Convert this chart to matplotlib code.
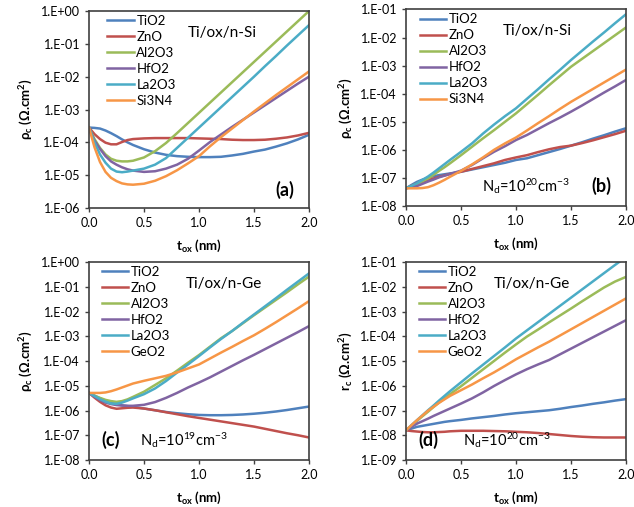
import matplotlib
matplotlib.use('Agg')
import matplotlib.pyplot as plt
import numpy as np
from matplotlib.ticker import FuncFormatter, LogLocator, NullLocator

plt.rcParams['font.family'] = ['Lato', 'DejaVu Sans']
plt.rcParams['mathtext.default'] = 'regular'

# espessura do oxido (nm)
t_ox = [0, 0.05, 0.1, 0.15, 0.2, 0.25, 0.3, 0.35, 0.4, 0.5, 0.6, 0.7, 0.8, 0.9,
        1.0, 1.1, 1.2, 1.3, 1.4, 1.5, 1.6, 1.7, 1.8, 1.9, 2.0]

# valores, em log10(rho_c)
# (a) Ti/ox/n-Si
a_tio2 = [-3.55, -3.56, -3.58, -3.64, -3.72, -3.81, -3.91, -4.00, -4.08, -4.21, -4.31, -4.38, -4.42,
          -4.44, -4.45, -4.45, -4.44, -4.40, -4.35, -4.28, -4.22, -4.13, -4.03, -3.91, -3.77]
a_zno = [-3.55, -3.75, -3.90, -4.01, -4.06, -4.06, -3.99, -3.93, -3.90, -3.88, -3.87, -3.87, -3.87,
         -3.87, -3.88, -3.89, -3.90, -3.92, -3.93, -3.93, -3.92, -3.89, -3.85, -3.79, -3.71]
a_al2o3 = [-3.55, -3.90, -4.17, -4.37, -4.50, -4.56, -4.58, -4.58, -4.56, -4.46, -4.27, -4.02, -3.72,
           -3.41, -3.10, -2.79, -2.48, -2.17, -1.86, -1.55, -1.24, -0.93, -0.62, -0.31, 0.0]
a_hfo2 = [-3.55, -3.95, -4.20, -4.42, -4.58, -4.68, -4.76, -4.82, -4.86, -4.90, -4.88, -4.80, -4.68,
          -4.50, -4.25, -3.99, -3.76, -3.53, -3.31, -3.09, -2.87, -2.65, -2.43, -2.21, -2.00]
a_la2o3 = [-3.55, -4.00, -4.37, -4.62, -4.80, -4.89, -4.91, -4.89, -4.86, -4.80, -4.68, -4.48, -4.17,
           -3.86, -3.55, -3.24, -2.93, -2.62, -2.31, -2.00, -1.68, -1.37, -1.05, -0.74, -0.43]
a_si3n4 = [-3.55, -4.15, -4.60, -4.90, -5.08, -5.18, -5.25, -5.28, -5.29, -5.26, -5.17, -5.03, -4.85,
           -4.64, -4.42, -4.12, -3.84, -3.58, -3.32, -3.06, -2.81, -2.56, -2.32, -2.08, -1.84]

# (b) Ti/ox/n-Si, Nd=1e20
b_tio2 = [-7.37, -7.25, -7.14, -7.06, -6.99, -6.94, -6.90, -6.87, -6.84, -6.78, -6.70, -6.62, -6.54,
          -6.46, -6.36, -6.30, -6.19, -6.08, -5.97, -5.85, -5.73, -5.60, -5.48, -5.35, -5.23]
b_zno = [-7.37, -7.28, -7.19, -7.13, -7.08, -7.02, -6.96, -6.91, -6.86, -6.78, -6.68, -6.58, -6.48,
         -6.36, -6.27, -6.19, -6.08, -5.98, -5.90, -5.85, -5.76, -5.66, -5.55, -5.44, -5.32]
b_al2o3 = [-7.37, -7.30, -7.22, -7.12, -7.02, -6.89, -6.75, -6.62, -6.48, -6.19, -5.89, -5.59, -5.30,
           -5.00, -4.70, -4.37, -4.04, -3.70, -3.37, -3.04, -2.76, -2.48, -2.20, -1.92, -1.64]
b_hfo2 = [-7.37, -7.33, -7.29, -7.21, -7.13, -7.06, -6.98, -6.92, -6.86, -6.74, -6.54, -6.30, -6.07,
          -5.87, -5.65, -5.47, -5.26, -5.05, -4.85, -4.64, -4.42, -4.19, -3.96, -3.74, -3.51]
b_la2o3 = [-7.37, -7.28, -7.19, -7.07, -6.95, -6.81, -6.66, -6.51, -6.36, -6.07, -5.77, -5.42, -5.10,
           -4.80, -4.52, -4.18, -3.84, -3.49, -3.15, -2.80, -2.47, -2.14, -1.82, -1.49, -1.17]
b_si3n4 = [-7.37, -7.37, -7.37, -7.36, -7.33, -7.26, -7.17, -7.07, -6.96, -6.75, -6.52, -6.27, -6.00,
           -5.77, -5.56, -5.31, -5.05, -4.80, -4.54, -4.29, -4.06, -3.83, -3.60, -3.37, -3.14]

# (c) Ti/ox/n-Ge, Nd=1e19
c_tio2 = [-5.29, -5.40, -5.51, -5.61, -5.69, -5.74, -5.79, -5.82, -5.85, -5.92, -5.99, -6.06, -6.11,
          -6.15, -6.18, -6.19, -6.19, -6.18, -6.16, -6.13, -6.09, -6.04, -5.98, -5.91, -5.84]
c_zno = [-5.29, -5.48, -5.65, -5.79, -5.88, -5.93, -5.91, -5.89, -5.88, -5.92, -5.99, -6.07, -6.15,
         -6.23, -6.30, -6.37, -6.44, -6.51, -6.58, -6.65, -6.74, -6.83, -6.92, -7.00, -7.09]
c_al2o3 = [-5.29, -5.40, -5.49, -5.57, -5.62, -5.65, -5.62, -5.55, -5.45, -5.24, -4.97, -4.70, -4.39,
           -4.07, -3.76, -3.42, -3.08, -2.79, -2.47, -2.15, -1.84, -1.53, -1.22, -0.90, -0.59]
c_hfo2 = [-5.29, -5.44, -5.58, -5.68, -5.74, -5.78, -5.80, -5.81, -5.81, -5.77, -5.66, -5.49, -5.29,
          -5.07, -4.87, -4.66, -4.43, -4.20, -3.97, -3.75, -3.52, -3.29, -3.06, -2.83, -2.59]
c_la2o3 = [-5.29, -5.42, -5.54, -5.64, -5.72, -5.73, -5.68, -5.60, -5.51, -5.34, -5.11, -4.81, -4.47,
           -4.14, -3.80, -3.45, -3.11, -2.79, -2.45, -2.12, -1.79, -1.46, -1.12, -0.79, -0.46]
c_geo2 = [-5.29, -5.29, -5.29, -5.27, -5.22, -5.15, -5.07, -4.99, -4.91, -4.80, -4.70, -4.60, -4.46,
          -4.30, -4.14, -3.90, -3.66, -3.43, -3.19, -2.96, -2.70, -2.43, -2.15, -1.87, -1.58]

# (d) Ti/ox/n-Ge, Nd=1e20
d_tio2 = [-7.80, -7.73, -7.66, -7.62, -7.58, -7.54, -7.50, -7.46, -7.43, -7.38, -7.32, -7.27, -7.22,
          -7.16, -7.11, -7.07, -7.03, -6.99, -6.93, -6.86, -6.80, -6.73, -6.67, -6.60, -6.54]
d_zno = [-7.80, -7.83, -7.85, -7.87, -7.88, -7.88, -7.87, -7.86, -7.84, -7.82, -7.82, -7.82, -7.83,
         -7.84, -7.86, -7.88, -7.91, -7.95, -7.99, -8.03, -8.06, -8.08, -8.09, -8.09, -8.09]
d_al2o3 = [-7.80, -7.61, -7.42, -7.23, -7.05, -6.86, -6.68, -6.51, -6.34, -6.02, -5.68, -5.34, -5.00,
           -4.66, -4.33, -4.01, -3.73, -3.44, -3.16, -2.88, -2.59, -2.31, -2.03, -1.79, -1.60]
d_hfo2 = [-7.80, -7.66, -7.53, -7.43, -7.33, -7.22, -7.12, -7.02, -6.92, -6.72, -6.51, -6.27, -6.01,
          -5.77, -5.54, -5.33, -5.14, -4.96, -4.73, -4.50, -4.27, -4.04, -3.81, -3.58, -3.35]
d_la2o3 = [-7.80, -7.59, -7.39, -7.19, -6.99, -6.80, -6.60, -6.41, -6.22, -5.86, -5.50, -5.15, -4.80,
           -4.45, -4.09, -3.76, -3.43, -3.10, -2.77, -2.44, -2.11, -1.78, -1.45, -1.12, -0.80]
d_geo2 = [-7.80, -7.59, -7.39, -7.20, -7.01, -6.85, -6.69, -6.55, -6.41, -6.18, -5.95, -5.70, -5.46,
          -5.20, -4.93, -4.69, -4.45, -4.22, -3.97, -3.72, -3.47, -3.22, -2.97, -2.72, -2.47]

labels_si = ['TiO2', 'ZnO', 'Al2O3', 'HfO2', 'La2O3', 'Si3N4']
labels_ge = ['TiO2', 'ZnO', 'Al2O3', 'HfO2', 'La2O3', 'GeO2']
cores = ['#4F81BD', '#C0504D', '#9BBB59', '#8064A2', '#4BACC6', '#F79646']

font_tick = 9
font_lbl = {'fontsize': 9.5, 'fontweight': 'bold'}


def fmt_exp(v, pos):
    return '1.E%+03d' % int(round(np.log10(v)))


def plot_painel(ax, series, labels, ylim, ylabel, titulo, letra, letra_pos, nd_txt, nd_pos, tit_x, leg_x):
    for s, lab, cor in zip(series, labels, cores):
        ax.plot(t_ox, 10.0 ** np.array(s), color=cor, lw=1.8, label=lab)
    ax.set_yscale('log')
    ax.set_xlim(0, 2.0)
    ax.set_ylim(ylim)
    ax.yaxis.set_major_locator(LogLocator(base=10, numticks=15))
    ax.yaxis.set_minor_locator(NullLocator())
    ax.yaxis.set_major_formatter(FuncFormatter(fmt_exp))
    ax.set_xticks([0, 0.5, 1.0, 1.5, 2.0])
    ax.set_xticklabels(['0.0', '0.5', '1.0', '1.5', '2.0'])
    ax.tick_params(direction='out', length=3, width=1, labelsize=font_tick, color='#404040')
    for sp in ax.spines.values():
        sp.set_color('#404040')
        sp.set_linewidth(1.2)
    ax.set_xlabel('t$_{ox}$ (nm)', fontdict=font_lbl, labelpad=6)
    ax.set_ylabel(ylabel, fontdict=font_lbl, labelpad=4)
    ax.legend(loc='upper left', frameon=False, fontsize=9.5, handlelength=2.0, handletextpad=0.2,
              labelspacing=0.3, borderaxespad=0.0, borderpad=0.3, bbox_to_anchor=(leg_x, 1.0))
    ax.text(tit_x, 0.89, titulo, transform=ax.transAxes, fontsize=11, va='center')
    ax.text(letra_pos[0], letra_pos[1], letra, transform=ax.transAxes, fontsize=13,
            fontweight='bold', ha='center', va='center')
    if nd_txt is not None:
        ax.text(nd_pos[0], nd_pos[1], nd_txt, transform=ax.transAxes, fontsize=10.5, va='center')


fig = plt.figure(figsize=(6.34, 5.07), dpi=100)
ax_a = fig.add_axes([0.1404, 0.5897, 0.347, 0.3886])
ax_b = fig.add_axes([0.6404, 0.5937, 0.347, 0.3876])
ax_c = fig.add_axes([0.1404, 0.0927, 0.347, 0.3905])
ax_d = fig.add_axes([0.6404, 0.0927, 0.347, 0.3905])

rho_lbl = 'ρ$_c$ (Ω.cm$^2$)'

plot_painel(ax_a, [a_tio2, a_zno, a_al2o3, a_hfo2, a_la2o3, a_si3n4], labels_si, (1e-6, 1e0),
            rho_lbl, 'Ti/ox/n-Si', '(a)', (0.89, 0.09), None, None, 0.45, 0.065)
plot_painel(ax_b, [b_tio2, b_zno, b_al2o3, b_hfo2, b_la2o3, b_si3n4], labels_si, (1e-8, 1e-1),
            rho_lbl, 'Ti/ox/n-Si', '(b)', (0.89, 0.1), 'N$_d$=10$^{20}$cm$^{-3}$', (0.345, 0.1), 0.44, 0.045)
plot_painel(ax_c, [c_tio2, c_zno, c_al2o3, c_hfo2, c_la2o3, c_geo2], labels_ge, (1e-8, 1e0),
            rho_lbl, 'Ti/ox/n-Ge', '(c)', (0.1, 0.1), 'N$_d$=10$^{19}$cm$^{-3}$', (0.23, 0.1), 0.44, 0.04)
plot_painel(ax_d, [d_tio2, d_zno, d_al2o3, d_hfo2, d_la2o3, d_geo2], labels_ge, (1e-9, 1e-1),
            'r$_c$ (Ω.cm$^2$)', 'Ti/ox/n-Ge', '(d)', (0.1, 0.1), 'N$_d$=10$^{20}$cm$^{-3}$', (0.26, 0.1), 0.40, 0.04)

fig.savefig('out.png', dpi=100)
